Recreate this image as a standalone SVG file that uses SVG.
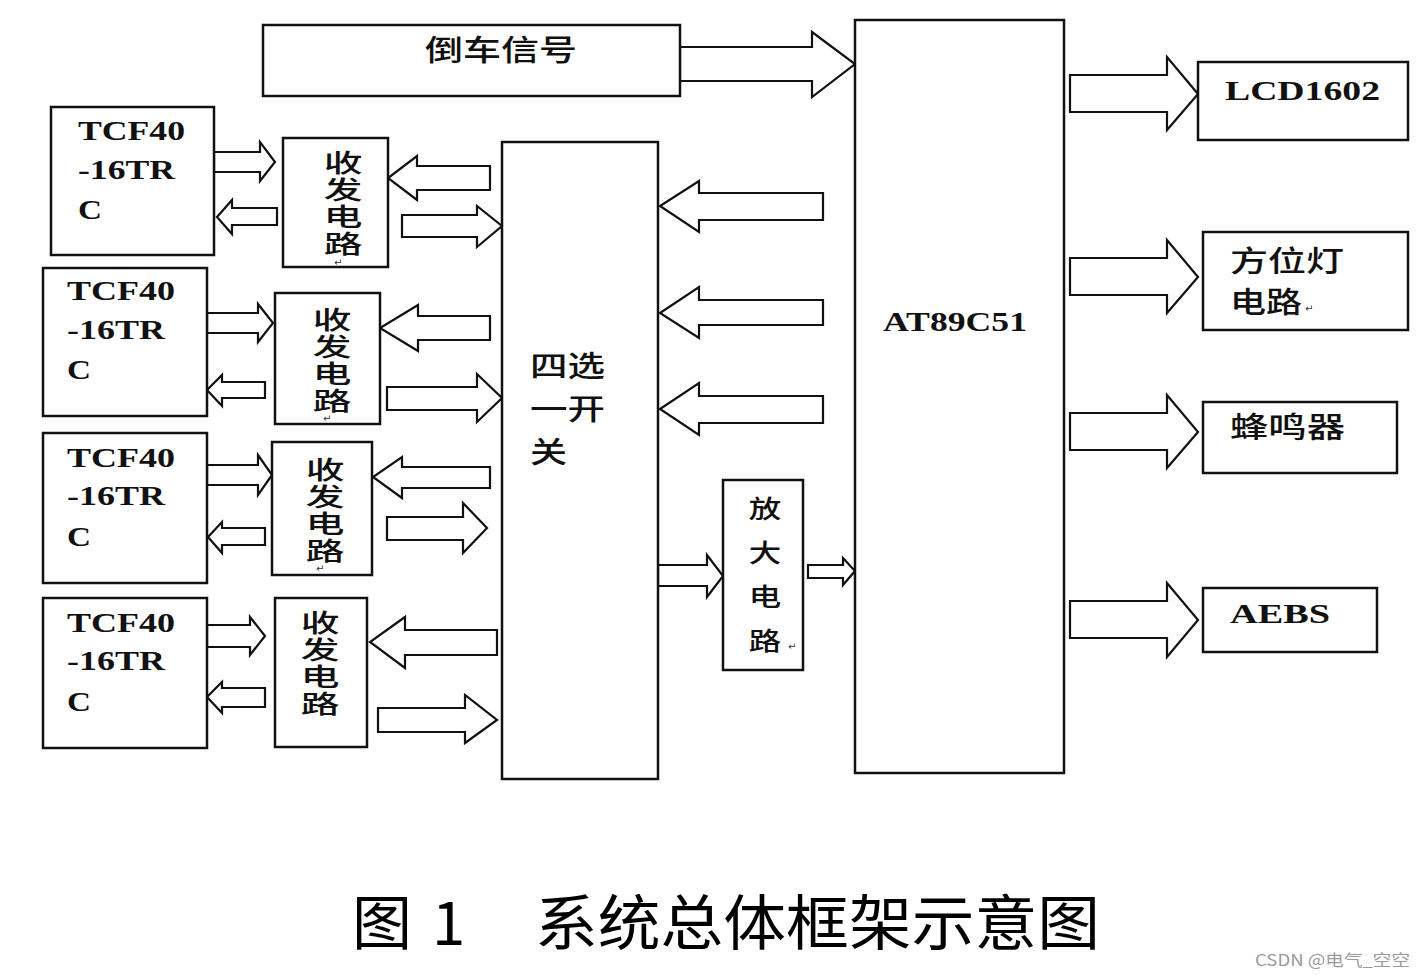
<svg xmlns="http://www.w3.org/2000/svg" width="1425" height="978" viewBox="0 0 1425 978">
<style>
.box{fill:#fff;stroke:#111;stroke-width:2.5}
.arr{fill:#fff;stroke:#111;stroke-width:2.2;stroke-linejoin:miter}
.en{font-family:"Liberation Serif",serif;font-weight:bold;font-size:28px;fill:#111}
.cn{font-family:"Noto Sans CJK SC",sans-serif;font-size:29px;fill:#111;font-weight:500}
.vt{font-family:"Noto Sans CJK SC",sans-serif;font-size:25px;fill:#111;font-weight:500;writing-mode:vertical-rl;text-orientation:upright;letter-spacing:2px}
.pm{font-family:"DejaVu Sans",sans-serif;font-size:10px;fill:#333}
.cap{font-family:"Noto Sans CJK SC",sans-serif;font-size:60px;fill:#000}
</style>
<rect width="1425" height="978" fill="#fff"/>

<g id="connectors">
<polygon class="arr" points="680,47 812,47 812,32 855,64 812,97 812,81 680,81"/>
<polygon class="arr" points="823,193 699,193 699,181 660,206 699,232 699,220 823,220"/>
<polygon class="arr" points="823,300 699,300 699,287 660,313 699,338 699,325 823,325"/>
<polygon class="arr" points="823,396 699,396 699,383 660,409 699,435 699,423 823,423"/>
<polygon class="arr" points="658,565 707,565 707,555 723,576 707,597 707,586 658,586"/>
<polygon class="arr" points="808,565 843,565 843,558 855,571 843,585 843,578 808,578"/>
<polygon class="arr" points="1070,75 1167,75 1167,57 1198,94 1167,130 1167,112 1070,112"/>
<polygon class="arr" points="1070,258 1167,258 1167,240 1198,277 1167,313 1167,295 1070,295"/>
<polygon class="arr" points="1070,413 1167,413 1167,395 1198,432 1167,468 1167,450 1070,450"/>
<polygon class="arr" points="1070,601 1167,601 1167,583 1198,620 1167,657 1167,638 1070,638"/>

<polygon class="arr" points="214,152 260,152 260,142 275,162 260,181 260,172 214,172"/>
<polygon class="arr" points="277,208 232,208 232,200 217,217 232,234 232,225 277,225"/>
<polygon class="arr" points="490,166 417,166 417,156 388,178 417,200 417,190 490,190"/>
<polygon class="arr" points="402,215 477,215 477,206 502,226 477,247 477,237 402,237"/>

<polygon class="arr" points="207,313 258,313 258,304 273,323 258,342 258,333 207,333"/>
<polygon class="arr" points="265,382 222,382 222,375 207,390 222,406 222,398 265,398"/>
<polygon class="arr" points="490,316 418,316 418,305 380,328 418,351 418,340 490,340"/>
<polygon class="arr" points="387,387 477,387 477,374 502,398 477,422 477,410 387,410"/>

<polygon class="arr" points="207,465 258,465 258,455 272,475 258,495 258,485 207,485"/>
<polygon class="arr" points="265,528 222,528 222,522 208,537 222,553 222,545 265,545"/>
<polygon class="arr" points="490,467 402,467 402,457 373,477 402,498 402,488 490,488"/>
<polygon class="arr" points="387,517 463,517 463,503 487,528 463,553 463,540 387,540"/>

<polygon class="arr" points="207,625 250,625 250,617 265,636 250,655 250,647 207,647"/>
<polygon class="arr" points="265,688 222,688 222,682 207,697 222,713 222,707 265,707"/>
<polygon class="arr" points="497,630 405,630 405,617 370,642 405,668 405,655 497,655"/>
<polygon class="arr" points="378,708 465,708 465,695 497,720 465,743 465,732 378,732"/>
</g>

<g id="reverse">
<rect class="box" x="263" y="25" width="417" height="71"/>
<text class="cn" x="425" y="61" font-size="30" textLength="152" lengthAdjust="spacingAndGlyphs">倒车信号</text>
</g>

<g id="mcu">
<rect class="box" x="855" y="20" width="209" height="753"/>
<text class="en" x="883" y="331" font-size="26" textLength="144" lengthAdjust="spacingAndGlyphs">AT89C51</text>
</g>

<g id="switch">
<rect class="box" x="502" y="142" width="156" height="637"/>
<text class="cn" x="530" y="377" font-size="28" textLength="75" lengthAdjust="spacingAndGlyphs">四选</text>
<text class="cn" x="530" y="420" font-size="28" textLength="75" lengthAdjust="spacingAndGlyphs">一开</text>
<text class="cn" x="530" y="463" font-size="28" textLength="37" lengthAdjust="spacingAndGlyphs">关</text>
</g>

<g id="amp">
<rect class="box" x="723" y="480" width="80" height="190"/>
<text class="vt" transform="translate(765,496) scale(1.3,1)" font-size="28" style="letter-spacing:19px">放大电路</text>
<text class="pm" x="788" y="650">↵</text>
</g>

<g id="lcd">
<rect class="box" x="1198" y="62" width="210" height="78"/>
<text class="en" x="1225" y="100" font-size="26" textLength="155" lengthAdjust="spacingAndGlyphs">LCD1602</text>
</g>

<g id="lamp">
<rect class="box" x="1203" y="232" width="205" height="98"/>
<text class="cn" x="1230" y="272" textLength="114" lengthAdjust="spacingAndGlyphs">方位灯</text>
<text class="cn" x="1230" y="313" textLength="72" lengthAdjust="spacingAndGlyphs">电路</text>
<text class="pm" x="1305" y="312">↵</text>
</g>

<g id="buzzer">
<rect class="box" x="1203" y="402" width="194" height="71"/>
<text class="cn" x="1230" y="438" textLength="115" lengthAdjust="spacingAndGlyphs">蜂鸣器</text>
</g>

<g id="aebs">
<rect class="box" x="1203" y="588" width="174" height="64"/>
<text class="en" x="1230" y="623" font-size="26" textLength="100" lengthAdjust="spacingAndGlyphs">AEBS</text>
</g>

<g id="tcf1">
<rect class="box" x="51" y="107" width="163" height="148"/>
<text class="en" x="78" y="140" textLength="107" lengthAdjust="spacingAndGlyphs">TCF40</text>
<text class="en" x="78" y="179" textLength="97" lengthAdjust="spacingAndGlyphs">-16TR</text>
<text class="en" x="78" y="219" textLength="24" lengthAdjust="spacingAndGlyphs">C</text>
</g>
<g id="tcf2">
<rect class="box" x="43" y="268" width="164" height="148"/>
<text class="en" x="67" y="300" textLength="108" lengthAdjust="spacingAndGlyphs">TCF40</text>
<text class="en" x="67" y="339" textLength="98" lengthAdjust="spacingAndGlyphs">-16TR</text>
<text class="en" x="67" y="379" textLength="24" lengthAdjust="spacingAndGlyphs">C</text>
</g>
<g id="tcf3">
<rect class="box" x="43" y="433" width="164" height="150"/>
<text class="en" x="67" y="467" textLength="108" lengthAdjust="spacingAndGlyphs">TCF40</text>
<text class="en" x="67" y="505" textLength="98" lengthAdjust="spacingAndGlyphs">-16TR</text>
<text class="en" x="67" y="546" textLength="24" lengthAdjust="spacingAndGlyphs">C</text>
</g>
<g id="tcf4">
<rect class="box" x="43" y="598" width="164" height="150"/>
<text class="en" x="67" y="632" textLength="108" lengthAdjust="spacingAndGlyphs">TCF40</text>
<text class="en" x="67" y="670" textLength="98" lengthAdjust="spacingAndGlyphs">-16TR</text>
<text class="en" x="67" y="711" textLength="24" lengthAdjust="spacingAndGlyphs">C</text>
</g>

<g id="trx1">
<rect class="box" x="283" y="138" width="105" height="129"/>
<text class="vt" transform="translate(343,150) scale(1.55,1)">收发电路</text>
<text class="pm" x="334" y="266">↵</text>
</g>
<g id="trx2">
<rect class="box" x="275" y="293" width="105" height="131"/>
<text class="vt" transform="translate(332,307) scale(1.55,1)">收发电路</text>
<text class="pm" x="323" y="422">↵</text>
</g>
<g id="trx3">
<rect class="box" x="272" y="442" width="100" height="133"/>
<text class="vt" transform="translate(325,457) scale(1.55,1)">收发电路</text>
<text class="pm" x="316" y="572">↵</text>
</g>
<g id="trx4">
<rect class="box" x="275" y="598" width="92" height="149"/>
<text class="vt" transform="translate(320,610) scale(1.55,1)">收发电路</text>
</g>

<g id="caption">
<text class="cap" x="352" y="945">图</text>
<text class="cap" x="432" y="945" font-family="Noto Sans, sans-serif">1</text>
<text class="cap" x="535" y="945" textLength="565" lengthAdjust="spacingAndGlyphs">系统总体框架示意图</text>
</g>
<text x="1255" y="966" font-family="'Noto Sans CJK SC',sans-serif" font-size="16" fill="#9a9a9a" textLength="155" lengthAdjust="spacingAndGlyphs">CSDN @电气_空空</text>
</svg>
